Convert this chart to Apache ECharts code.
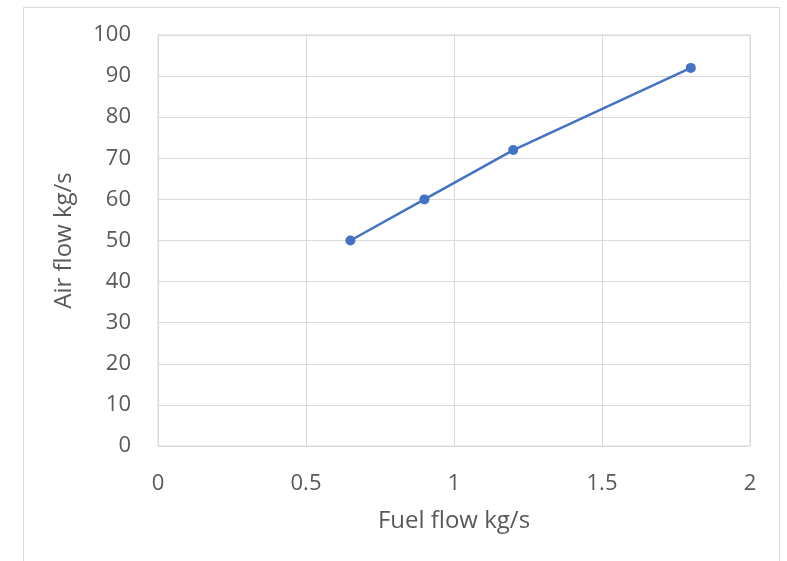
<!DOCTYPE html>
<html><head><meta charset="utf-8">
<script src="https://cdn.jsdelivr.net/npm/echarts@6/dist/echarts.min.js"></script>
<style>html,body{margin:0;padding:0;background:#fff}#c{width:787px;height:561px}</style>
</head><body><div id="c"></div>
<script>
const fuelFlow = [0.65, 0.9, 1.2, 1.8];
const airFlow = [50, 60, 72, 92];
const xTitle = 'Fuel flow kg/s';
const yTitle = 'Air flow kg/s';

const chart = echarts.init(document.getElementById('c'));
const font = '"Open Sans", "Liberation Sans", sans-serif';
chart.setOption({
  animation: false,
  backgroundColor: '#fff',
  graphic: [{
    type: 'rect', shape: {x: 23.5, y: 7.5, width: 756, height: 570},
    style: {fill: null, stroke: '#d9d9d9', lineWidth: 1}, silent: true
  }],
  grid: {left: 158, top: 35, right: 37, bottom: 115, show: true, borderColor: '#d9d9d9', borderWidth: 1},
  xAxis: {
    type: 'value', min: 0, max: 2, interval: 0.5,
    name: xTitle, nameLocation: 'middle', nameGap: 63,
    nameTextStyle: {color: '#595959', fontSize: 24, fontFamily: font},
    axisLine: {show: false}, axisTick: {show: false},
    splitLine: {show: true, lineStyle: {color: '#d9d9d9', width: 1}},
    axisLabel: {color: '#595959', fontSize: 22, fontFamily: font, margin: 27}
  },
  yAxis: {
    type: 'value', min: 0, max: 100, interval: 10,
    name: yTitle, nameLocation: 'middle', nameGap: 82,
    nameTextStyle: {color: '#595959', fontSize: 24, fontFamily: font},
    axisLine: {show: false}, axisTick: {show: false},
    splitLine: {show: true, lineStyle: {color: '#d9d9d9', width: 1}},
    axisLabel: {color: '#595959', fontSize: 22, fontFamily: font, margin: 27}
  },
  series: [{
    type: 'line',
    data: fuelFlow.map((x, i) => [x, airFlow[i]]),
    symbol: 'circle', symbolSize: 10,
    lineStyle: {color: '#4472C4', width: 2.5},
    itemStyle: {color: '#4472C4'}
  }]
});
</script></body></html>
